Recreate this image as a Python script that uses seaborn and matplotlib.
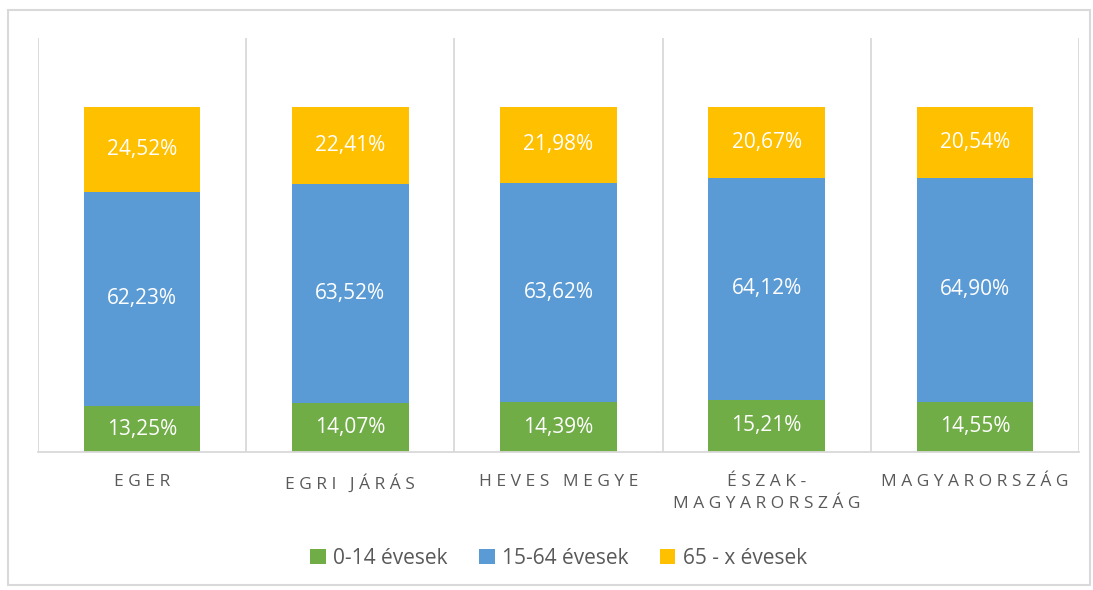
import matplotlib.pyplot as plt
import pandas as pd
import seaborn as sns
from matplotlib.patches import Rectangle

# adatok
categories = ['EGER', 'EGRI JÁRÁS', 'HEVES MEGYE', 'ÉSZAK-\nMAGYARORSZÁG', 'MAGYARORSZÁG']
young = [13.25, 14.07, 14.39, 15.21, 14.55]      # 0-14 évesek
middle = [62.23, 63.52, 63.62, 64.12, 64.90]     # 15-64 évesek
old = [24.52, 22.41, 21.98, 20.67, 20.54]        # 65 - x évesek
series_names = ['0-14 évesek', '15-64 évesek', '65 - x évesek']
colors = ['#70AD47', '#5B9BD5', '#FFC000']

sns.set_style('white')
plt.rcParams['font.family'] = ['Open Sans', 'DejaVu Sans']

fig = plt.figure(figsize=(10.93, 5.90), dpi=100)
ax = fig.add_axes([38 / 1093, 1 - 452 / 590, (1079 - 38) / 1093, (452 - 38) / 590])

df = pd.DataFrame({'cat': categories, 'young': young, 'middle': middle, 'old': old})
bottoms = [0] * len(categories)
for col, name, color in zip(['young', 'middle', 'old'], series_names, colors):
    sns.barplot(data=df, x='cat', y=col, bottom=bottoms, color=color, width=0.56,
                saturation=1, label=name, ax=ax, linewidth=0)
    for i, v in enumerate(df[col]):
        ax.text(i, bottoms[i] + v / 2, f'{v:.2f}%'.replace('.', ','), ha='center', va='center',
                color='white', fontsize=15)
    bottoms = [b + v for b, v in zip(bottoms, df[col])]

ax.set_ylim(0, 120)
ax.set_xlim(-0.5, len(categories) - 0.5)
for x in [i - 0.5 for i in range(len(categories) + 1)]:
    ax.axvline(x, color='#D9D9D9', lw=1.3, zorder=0)
sns.despine(ax=ax, left=True, right=True, top=True)
ax.spines['bottom'].set_color('#D9D9D9')
ax.spines['bottom'].set_linewidth(1.3)
ax.set_yticks([])
ax.set_xlabel('')
ax.set_ylabel('')

def spaced(s):
    return '\n'.join(' '.join(line) for line in s.split('\n'))

ax.set_xticks(range(len(categories)))
ax.set_xticklabels([spaced(c) for c in categories], color='#595959', fontsize=12.5, linespacing=1.5)
ax.tick_params(axis='x', length=0, pad=16)

ax.legend(loc='center', bbox_to_anchor=(0.5, 1 - (558 - 38) / 414), ncol=3, frameon=False,
          fontsize=15, labelcolor='#595959', handlelength=0.75, handleheight=0.75,
          handletextpad=0.35, columnspacing=1.5)

fig.patches.append(Rectangle((8 / 1093, 1 - 585 / 590), 1082 / 1093, 575 / 590,
                             transform=fig.transFigure, fill=False, edgecolor='#D9D9D9', lw=1.5))

fig.savefig('out.png', dpi=100)
